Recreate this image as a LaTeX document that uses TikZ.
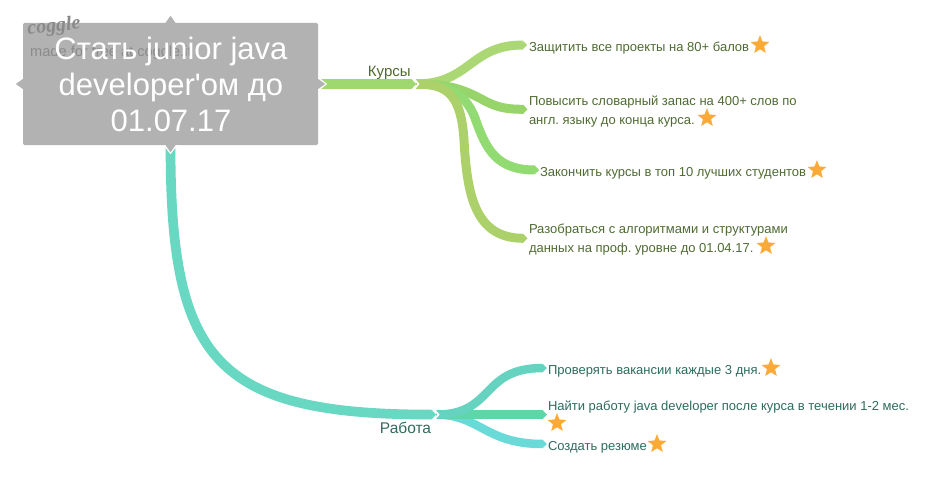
\documentclass[tikz,border=0pt]{standalone}
\usepackage{fontspec}
\setmainfont{Liberation Sans}
\newfontfamily\titlefont{Liberation Sans}
\newfontfamily\logofont{Liberation Serif}
\usetikzlibrary{arrows.meta,shapes.geometric}
\definecolor{rootgray}{HTML}{B2B2B2}
\definecolor{marktext}{HTML}{8A8A8A}
\definecolor{greentext}{HTML}{4F6B32}
\definecolor{tealtext}{HTML}{2F6B5E}
\definecolor{starcol}{HTML}{FBAA37}
\definecolor{gmain}{HTML}{9FD86F}
\definecolor{gone}{HTML}{ABD874}
\definecolor{gtwo}{HTML}{97D46A}
\definecolor{gthree}{HTML}{92DA72}
\definecolor{gfour}{HTML}{ACD16A}
\definecolor{tmain}{HTML}{68D8C2}
\definecolor{tone}{HTML}{66D2C0}
\definecolor{ttwo}{HTML}{5FD5A8}
\definecolor{tthree}{HTML}{6ADAD8}
\tikzset{
  x=1pt,y=-1pt,
  branch/.style={line width=9pt,-{Triangle[length=4.5pt,width=9pt]}},
  tbranch/.style={line width=8.5pt,-{Triangle[length=4.5pt,width=8.5pt]}},
  mainbranch/.style={line width=9.7pt,-{Triangle[length=4.5pt,width=9.7pt]}},
  leaf/.style={anchor=west,inner sep=0pt,outer sep=0pt,align=left,font=\frenchspacing\fontsize{13}{18.8}\selectfont},
  gleaf/.style={leaf,text=greentext},
  tleaf/.style={leaf,text=tealtext},
  starmark/.style={star,star points=5,star point ratio=2.3,fill=starcol,draw=starcol,line width=0.3pt,inner sep=0pt,minimum size=18.5pt},
  rootbox/.style={fill=rootgray,rounded corners=1.5pt,minimum width=295pt,minimum height=122pt,inner sep=0pt},
  roottitle/.style={text=white,align=center,font=\titlefont\fontsize{31}{36}\selectfont,inner sep=0pt},
  chevron/.style={draw=white,line width=1.6pt,line join=miter},
  branchlabel/.style={inner sep=0pt,font=\fontsize{15}{18}\selectfont},
}
\begin{document}
\begin{tikzpicture}
\useasboundingbox (0,0) rectangle (940,487);
\fill[white] (0,0) rectangle (940,487);

% root
\node[rootbox] (root) at (170.5,84) {};
\coordinate (hubk) at (416,84);
\coordinate (hubr) at (436,414.6);

% labels and leaves
\node[branchlabel,text=greentext] (kursy) at (389.3,72.5) {Курсы};
\node[branchlabel,text=tealtext,font=\fontsize{15.5}{18}\selectfont] (rabota) at (405.5,428) {Работа};
\node[gleaf] (g1) at (529,48.3) {Защитить все проекты на 80+ балов};
\node[gleaf] (g2) at (529,111.5) {Повысить словарный запас на 400+ слов по\\англ. языку до конца курса.};
\node[gleaf] (g3) at (540,173.3) {Закончить курсы в топ 10 лучших студентов};
\node[gleaf] (g4) at (529,239.5) {Разобраться с алгоритмами и структурами\\данных на проф. уровне до 01.04.17.};
\node[tleaf] (t1) at (548,371.3) {Проверять вакансии каждые 3 дня.};
\node[tleaf] (t2) at (548,407.3) {Найти работу java developer после курса в течении 1-2 мес.};
\node[tleaf] (t3) at (548,447.3) {Создать резюме};
\coordinate (g1in) at ([xshift=-2pt,yshift=3.3pt]g1.west);
\coordinate (g2in) at ([xshift=-1.5pt,yshift=2.2pt]g2.west);
\coordinate (g3in) at ([xshift=-1pt,yshift=3.3pt]g3.west);
\coordinate (g4in) at ([xshift=-1.5pt,yshift=1.2pt]g4.west);
\coordinate (t1in) at ([xshift=-1pt,yshift=3.3pt]t1.west);
\coordinate (t2in) at ([xshift=-1pt,yshift=-7.7pt]t2.west);
\coordinate (t3in) at ([xshift=-1pt,yshift=3.3pt]t3.west);

% green children
\draw[branch,gone] (hubk) .. controls +(54,0) and (470,45) .. (g1in);
\draw[branch,gtwo] (hubk) .. controls +(34,0) and (465,90) .. (485,101) .. controls (497,107) and (505,109.3) .. (g2in);
\draw[branch,gthree] (hubk) .. controls +(34,0) and (466,95) .. (475,118) .. controls (486,150) and (497,170) .. (g3in);
\draw[branch,gfour] (hubk) .. controls +(29,0) and (461,92) .. (464,140) .. controls (467,195) and (475,238.3) .. (g4in);
% teal children
\draw[tbranch,tthree] (hubr) .. controls +(44,0) and (485,444) .. (t3in);
\draw[tbranch,ttwo] (hubr) -- (t2in |- hubr);
\draw[tbranch,tone] (hubr) .. controls +(59,0) and (480,368) .. (t1in);

% main branches
\draw[chevron] ([shift={(-3,-6.5)}]hubk) -- ([shift={(2.5,0)}]hubk) -- ([shift={(-3,6.5)}]hubk);
\draw[chevron] ([shift={(-3,-6.5)}]hubr) -- ([shift={(2.5,0)}]hubr) -- ([shift={(-3,6.5)}]hubr);
\draw[mainbranch,gmain] (root.east) -- (hubk);
\draw[mainbranch,tmain] (root.south) .. controls +(0,215) and (215,414.6) .. (hubr);

% root pointers
\fill[white] (root.east) ++(0,-7) -- ++(9,7) -- ++(-9,7) -- cycle;
\fill[white] (root.south) ++(-7,0) -- ++(7,9) -- ++(7,-9) -- cycle;
\fill[rootgray] (root.east) ++(0,-5) -- ++(7,5) -- ++(-7,5) -- cycle;
\fill[rootgray] (root.south) ++(-5,0) -- ++(5,7) -- ++(5,-7) -- cycle;
\fill[rootgray] (root.north) ++(-5,0) -- ++(5,-7) -- ++(5,7) -- cycle;
\fill[rootgray] (root.west) ++(0,-5) -- ++(-7,5) -- ++(7,5) -- cycle;

% watermark
\node[inner sep=0pt,text=marktext,rotate=6,font=\logofont\itshape\bfseries\fontsize{20}{20}\selectfont] (logo) at (54,27) {coggle};
\node[anchor=west,inner sep=0pt,text=marktext,font=\fontsize{14.6}{16}\selectfont] (made) at (30,53) {made for free at coggle.it};

% title
\node[roottitle] (title) at (171,84.3) {Стать junior java\\developer'ом до\\01.07.17};

% stars
\node[starmark] (s1) at (760,45) {};
\node[starmark] (s2) at (707,118) {};
\node[starmark] (s3) at (817,170) {};
\node[starmark] (s4) at (766,246) {};
\node[starmark] (s5) at (771,368) {};
\node[starmark] (s6) at (557,423) {};
\node[starmark] (s7) at (657,444) {};
\end{tikzpicture}
\end{document}
